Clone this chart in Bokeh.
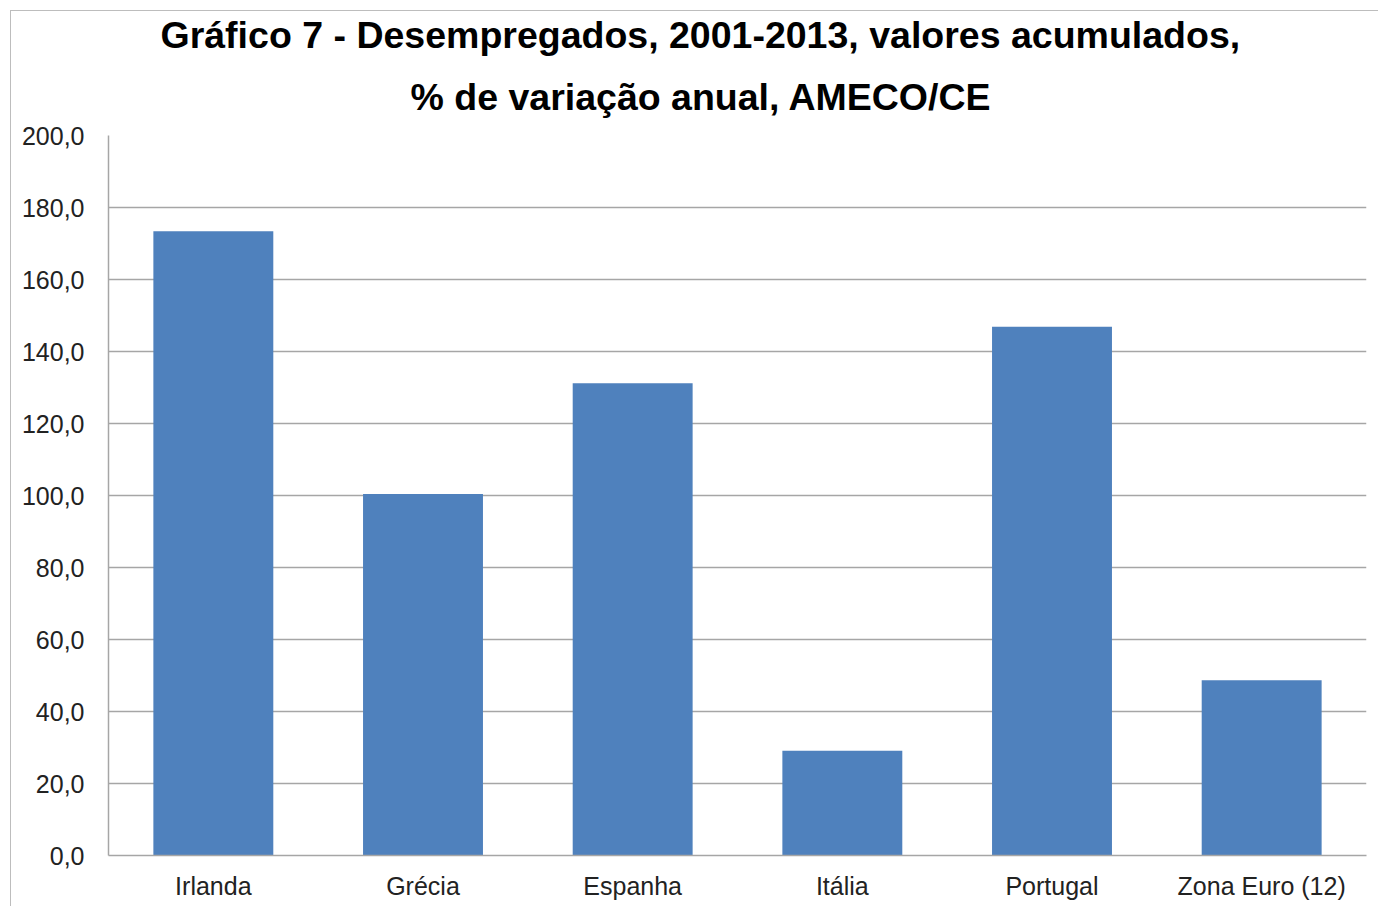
from bokeh.plotting import figure
from bokeh.models import Title, FixedTicker
from bokeh.embed import file_html
from bokeh.resources import INLINE

categories = ["Irlanda", "Grécia", "Espanha", "Itália", "Portugal", "Zona Euro (12)"]
values = [173.4, 100.4, 131.2, 29.1, 146.9, 48.7]
y_ticks = [0, 20, 40, 60, 80, 100, 120, 140, 160, 180, 200]
y_tick_labels = ["0,0", "20,0", "40,0", "60,0", "80,0", "100,0", "120,0", "140,0", "160,0", "180,0", "200,0"]
title_line1 = "Gráfico 7 - Desempregados, 2001-2013, valores acumulados,"
title_line2 = "% de variação anual, AMECO/CE"

FONT = "Liberation Sans"

p = figure(x_range=categories, y_range=(0, 200), width=1368, height=896,
           output_backend="svg", toolbar_location=None,
           min_border_left=97, min_border_right=13, min_border_bottom=52, min_border_top=36)
p.styles = {"margin-left": "10px", "margin-top": "10px",
            "border-left": "1px solid #bdbdbd", "border-top": "1px solid #bdbdbd"}

p.vbar(x=categories, top=values, width=0.572, color="#4F81BD", line_color=None)

p.add_layout(Title(text=title_line2, align="left", offset=302, text_font=FONT,
                   text_font_size="37.5px", text_font_style="bold", text_color="#000000",
                   standoff=36), "above")
p.add_layout(Title(text=title_line1, align="left", offset=52, text_font=FONT,
                   text_font_size="37.5px", text_font_style="bold", text_color="#000000",
                   standoff=0), "above")

p.outline_line_color = None
p.xgrid.grid_line_color = None
p.ygrid.grid_line_color = "#a6a6a6"
p.ygrid.grid_line_width = 1.5

p.yaxis.ticker = FixedTicker(ticks=y_ticks)
p.yaxis.major_label_overrides = {t: l for t, l in zip(y_ticks, y_tick_labels)}
for ax in (p.xaxis[0], p.yaxis[0]):
    ax.axis_line_color = "#a6a6a6"
    ax.axis_line_width = 1.5
    ax.major_tick_line_color = None
    ax.minor_tick_line_color = None
    ax.major_label_text_font = FONT
    ax.major_label_text_font_size = "25px"
    ax.major_label_text_color = "#222222"
p.yaxis.major_label_standoff = 18
p.xaxis.major_label_standoff = 10
p.x_range.range_padding = 0.0

open("out.html", "w").write(file_html(p, INLINE))
